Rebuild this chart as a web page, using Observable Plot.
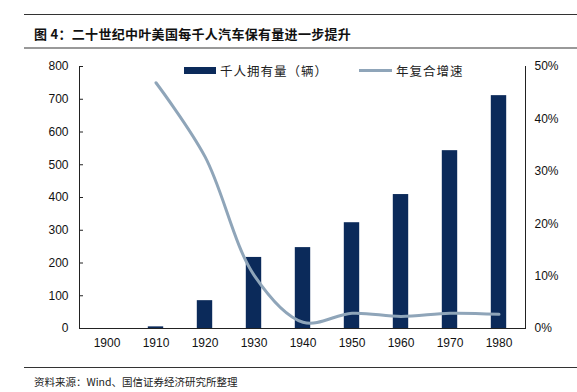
<!DOCTYPE html>
<html><head><meta charset="utf-8">
<script src="https://cdn.jsdelivr.net/npm/d3@7"></script>
<script src="https://cdn.jsdelivr.net/npm/@observablehq/plot@0.6"></script>
<style>
body{margin:0;background:#fff;}
#wrap{position:relative;width:577px;height:392px;overflow:hidden;background:#fff;font-family:"Liberation Sans",Arial,sans-serif;}
#wrap svg{position:absolute;left:0;top:0;}
.hline{position:absolute;left:24px;right:0;}
#title{position:absolute;left:34px;top:24px;font:bold 13px "Noto Sans CJK SC",sans-serif;color:#111;white-space:nowrap;letter-spacing:0.3px;}
#src{position:absolute;left:34px;top:374px;font:10.5px "Noto Sans CJK SC",sans-serif;color:#222;white-space:nowrap;}
.leg{position:absolute;font:12.5px "Noto Sans CJK SC",sans-serif;color:#222;white-space:nowrap;letter-spacing:1px;}
</style></head>
<body><div id="wrap">
<div class="hline" style="top:14px;height:1px;background:#333"></div>
<div id="title">图 4：二十世纪中叶美国每千人汽车保有量进一步提升</div>
<div class="hline" style="top:47px;height:2px;background:#999"></div>
<div class="hline" style="top:367px;height:1px;background:#333"></div>
<div id="src">资料来源：Wind、国信证券经济研究所整理</div>
<div style="position:absolute;left:184px;top:67px;width:32px;height:7px;background:#0b2a5a"></div>
<div class="leg" style="left:220px;top:61px">千人拥有量（辆）</div>
<div style="position:absolute;left:359px;top:69px;width:33px;height:3px;background:#8fa5b9"></div>
<div class="leg" style="left:396px;top:61px">年复合增速</div>
</div>
<script>
const years = ["1900","1910","1920","1930","1940","1950","1960","1970","1980"];
const carsPerThousand = [0, 5, 85, 217, 247, 323, 409, 543, 711];
const growthRate = [null, 0.469, 0.328, 0.102, 0.012, 0.029, 0.023, 0.029, 0.027];
const leftTicks = [0,100,200,300,400,500,600,700,800];
const rightTicks = [0,0.1,0.2,0.3,0.4,0.5];

const bars = years.map((y,i)=>({year:y, v:carsPerThousand[i]}));
const line = years.map((y,i)=>({year:y, g:growthRate[i]})).filter(d=>d.g!=null);
const k = 800/0.5;

const chart = Plot.plot({
  width:577, height:392,
  marginLeft:79, marginRight:52, marginTop:66, marginBottom:64,
  style:{fontFamily:"Liberation Sans, Arial, sans-serif", fontSize:"12px", color:"#111", background:"transparent"},
  x:{domain:years, padding:0, axis:null, label:null},
  y:{domain:[0,800], axis:null, label:null},
  marks:[
    Plot.barY(bars,{x:"year", y:"v", fill:"#0b2a5a", insetLeft:16.8, insetRight:16.8}),
    Plot.line(line,{x:"year", y:d=>d.g*k, stroke:"#8fa5b9", strokeWidth:3, curve:"catmull-rom"}),
    Plot.frame({anchor:"left", stroke:"#222"}),
    Plot.frame({anchor:"right", stroke:"#222"}),
    Plot.ruleY([0],{stroke:"#222", strokeWidth:1.2}),
    Plot.axisY({ticks:leftTicks, tickSize:-4, tickPadding:15, tickFormat:d=>String(d), fontSize:12, stroke:"#222", label:null}),
    Plot.axisY({anchor:"right", ticks:rightTicks.map(t=>t*k), tickSize:0, tickPadding:9, tickFormat:d=>Math.round(d/k*100)+"%", fontSize:12, label:null}),
    Plot.axisX({tickSize:0, tickPadding:10, fontSize:12, label:null})
  ]
});
document.getElementById("wrap").prepend(chart);
</script>
</body></html>
